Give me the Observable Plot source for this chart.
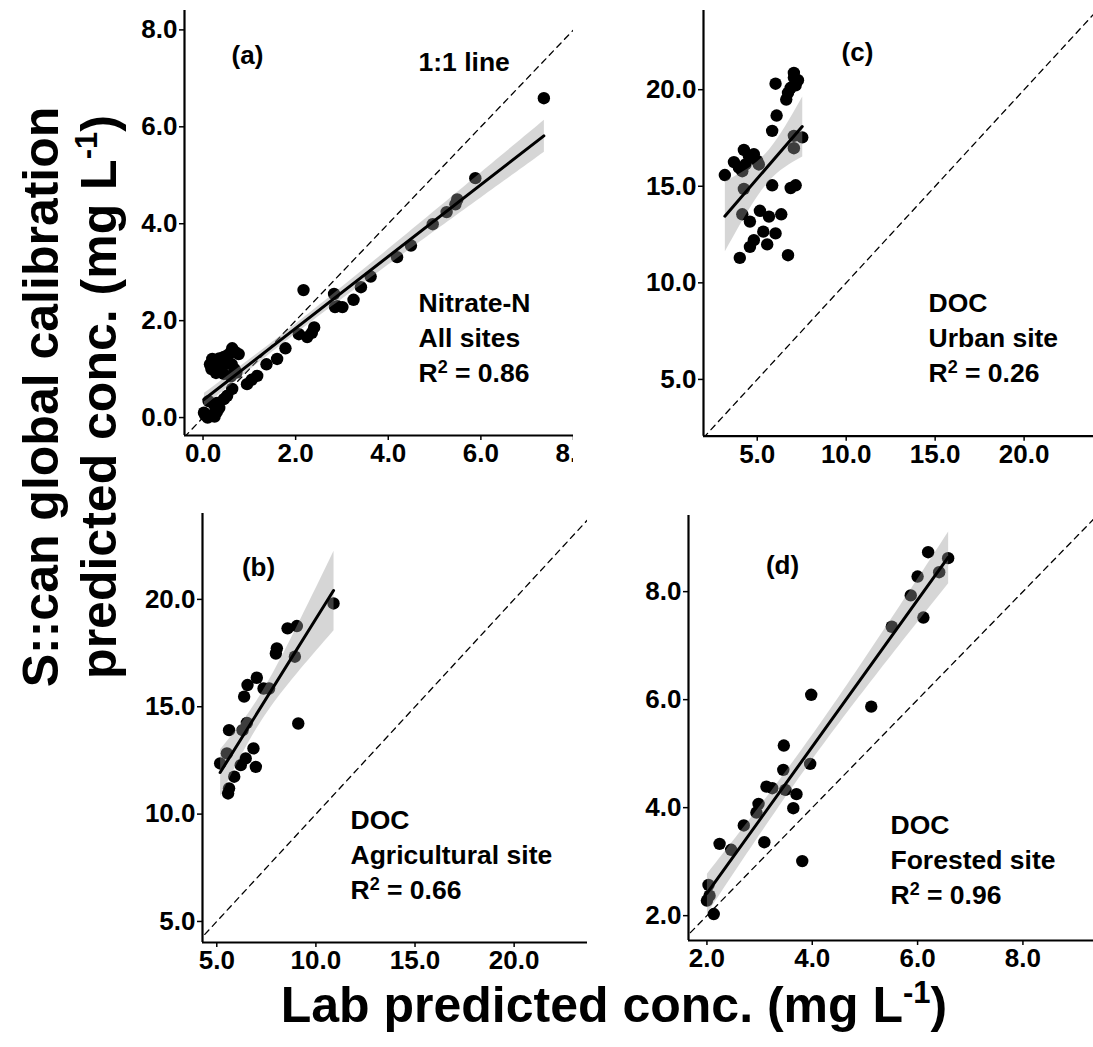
<!DOCTYPE html>
<html><head><meta charset="utf-8">
<script src="https://cdn.jsdelivr.net/npm/d3@7"></script>
<script src="https://cdn.jsdelivr.net/npm/@observablehq/plot@0.6"></script>
<style>
body{margin:0;background:#fff;}
#wrap{position:relative;width:1093px;height:1047px;overflow:hidden;background:#fff;font-family:"Liberation Sans",Arial,sans-serif;}
.panel{position:absolute;}
.title{position:absolute;font-weight:bold;color:#000;white-space:nowrap;font-family:"Liberation Sans",Arial,sans-serif;}
.sup{font-size:0.62em;position:relative;top:-0.62em;}
</style></head>
<body><div id="wrap"></div>
<script>
// ---- Panel (a): Nitrate-N, all sites ----
const aLab  = [7.36,5.88,5.49,5.45,5.26,4.96,4.49,4.19,3.62,3.41,3.25,2.83,3.01,2.85,2.90,2.17,2.40,2.25,2.07,2.35,1.78,1.60,1.37,1.17,0.95,1.05,
               0.63,0.70,0.77,0.55,0.45,0.35,0.20,0.15,0.18,0.30,0.40,0.50,0.62,0.68,0.28,0.45,0.72,0.60,
               0.63,0.52,0.45,0.30,0.23,0.12,0.35,0.30,0.18,0.05,0.02,0.25,0.10];
const aScan = [6.59,4.94,4.50,4.40,4.24,3.99,3.55,3.31,2.91,2.69,2.43,2.55,2.28,2.28,2.30,2.63,1.86,1.66,1.72,1.75,1.43,1.21,1.10,0.86,0.69,0.78,
               1.43,1.35,1.31,1.30,1.25,1.22,1.21,1.10,1.00,1.15,1.05,1.12,1.10,1.00,0.92,0.90,0.93,0.85,
               0.59,0.45,0.38,0.30,0.28,0.34,0.20,0.12,0.05,0.05,0.10,0.02,0.00];
// ---- Panel (c): DOC, urban site ----
const cLab  = [7.06,7.29,7.16,6.88,6.73,6.63,7.06,6.03,6.09,5.84,7.53,7.06,7.06,3.18,3.69,4.25,3.97,4.34,4.72,5.00,4.53,5.09,4.81,4.16,
               4.25,5.84,6.88,7.16,4.16,4.59,5.15,5.66,6.35,5.34,6.03,4.81,4.59,5.56,4.02,6.73];
const cScan = [20.87,20.49,20.23,20.10,19.83,19.49,20.63,20.31,18.66,17.87,17.53,17.61,16.97,15.58,16.25,16.88,15.96,16.13,16.48,16.31,16.57,16.13,16.66,15.78,
               14.86,15.05,14.91,15.05,13.55,13.17,13.73,13.43,13.55,12.65,12.56,12.21,11.86,11.99,11.29,11.43];
// ---- Panel (b): DOC, agricultural site ----
const bLab  = [10.89,9.04,8.57,8.03,7.98,8.94,7.02,6.55,6.38,7.36,7.64,9.11,6.52,6.30,5.62,5.51,6.85,6.46,6.21,6.97,5.17,5.88,5.62,5.57];
const bScan = [19.81,18.76,18.65,17.72,17.48,17.33,16.35,16.01,15.47,15.85,15.85,14.22,14.25,13.91,13.91,12.83,13.06,12.59,12.28,12.20,12.36,11.74,11.20,10.96];
// ---- Panel (d): DOC, forested site ----
const dLab  = [6.20,6.58,6.41,6.00,5.87,6.11,5.51,3.98,5.12,3.46,3.96,3.45,3.13,3.24,3.49,3.70,2.98,2.94,3.64,2.70,2.24,2.46,3.09,3.81,2.03,2.00,2.05,2.13];
const dScan = [8.73,8.62,8.36,8.28,7.93,7.52,7.35,6.09,5.87,5.15,4.81,4.70,4.39,4.36,4.33,4.25,4.07,3.91,3.99,3.67,3.33,3.22,3.36,3.01,2.57,2.28,2.37,2.03];

// tick values
const aTicks = [0, 2, 4, 6, 8];
const docTicks = [5, 10, 15, 20];
const dTicks = [2, 4, 6, 8];

// annotation texts (last line gets a real superscript after rendering)
const aNote = ["Nitrate-N", "All sites", "R2 = 0.86"];
const cNote = ["DOC", "Urban site", "R2 = 0.26"];
const bNote = ["DOC", "Agricultural site", "R2 = 0.66"];
const dNote = ["DOC", "Forested site", "R2 = 0.96"];

const FONT = "'Liberation Sans', Arial, sans-serif";
const wrap = document.getElementById("wrap");
const fmt = d3.format(".1f");

function panel(cfg) {
  const rows = cfg.lab.map((x, i) => ({lab: x, scan: cfg.scan[i]}));
  const lo = Math.min(cfg.xDomain[0], cfg.yDomain[0]);
  const hi = Math.max(cfg.xDomain[1], cfg.yDomain[1]);
  const marks = [
    Plot.line([lo, hi], {x: d => d, y: d => d, stroke: "#000", strokeWidth: 1.3, strokeDasharray: "6,5", clip: true}),
    Plot.dot(rows, {x: "lab", y: "scan", r: 6.2, fill: "#000", stroke: "none"}),
    Plot.linearRegressionY(rows, {x: "lab", y: "scan", stroke: "#000", strokeWidth: 3, fill: "#999", fillOpacity: 0.4, ci: 0.95}),
    Plot.ruleX([cfg.xDomain[0]], {stroke: "#000", strokeWidth: 2.2}),
    Plot.ruleY([cfg.yDomain[0]], {stroke: "#000", strokeWidth: 2.2}),
    Plot.axisX({ticks: cfg.xTicks, tickFormat: fmt, tickSize: 5, tickPadding: 3, label: null, strokeWidth: 1.5}),
    Plot.axisY({ticks: cfg.yTicks, tickFormat: fmt, tickSize: 5, tickPadding: 2, label: null, strokeWidth: 1.5}),
    Plot.text([cfg.tag], {text: d => d, frameAnchor: "top-left", dx: cfg.tagPos[0], dy: cfg.tagPos[1], textAnchor: "middle", lineAnchor: "middle", fontSize: 26, fontWeight: "bold", fontFamily: FONT, fill: "#000"}),
    Plot.text([cfg.note.join("\n")], {text: d => d, frameAnchor: "top-left", dx: cfg.notePos[0], dy: cfg.notePos[1], textAnchor: "start", lineAnchor: "middle", lineHeight: 1.33, fontSize: 26.5, fontWeight: "bold", fontFamily: FONT, fill: "#000", className: "note"})
  ];
  if (cfg.extra) marks.push(Plot.text([cfg.extra], {text: d => d, frameAnchor: "top-left", dx: cfg.extraPos[0], dy: cfg.extraPos[1], textAnchor: "start", lineAnchor: "middle", fontSize: 26.5, fontWeight: "bold", fontFamily: FONT, fill: "#000"}));
  const svg = Plot.plot({
    width: cfg.width, height: cfg.height,
    marginLeft: cfg.marginLeft, marginRight: 0, marginTop: 10, marginBottom: cfg.marginBottom,
    x: {domain: cfg.xDomain}, y: {domain: cfg.yDomain},
    style: {fontFamily: FONT, fontSize: "26px", fontWeight: "bold", color: "#000", background: "transparent", overflow: "hidden"},
    marks
  });
  // turn "R2" into R with a superscript 2
  svg.querySelectorAll("g.note tspan, g.note text").forEach(el => {
    if (el.childElementCount === 0 && /^R2 /.test(el.textContent)) {
      const rest = el.textContent.slice(2);
      el.textContent = "R";
      const sup = document.createElementNS("http://www.w3.org/2000/svg", "tspan");
      sup.setAttribute("font-size", "0.68em");
      sup.setAttribute("baseline-shift", "0.52em");
      sup.textContent = "2";
      const tail = document.createElementNS("http://www.w3.org/2000/svg", "tspan");
      tail.textContent = rest;
      el.appendChild(sup);
      el.appendChild(tail);
    }
  });
  svg.classList.add("panel");
  svg.style.left = cfg.left + "px";
  svg.style.top = cfg.top + "px";
  svg.style.maxWidth = "none";
  wrap.appendChild(svg);
}

panel({lab: aLab, scan: aScan, xDomain: [-0.40, 8.0], yDomain: [-0.37, 8.4], xTicks: aTicks, yTicks: aTicks,
  left: 124, top: 0, width: 449, height: 470, marginLeft: 60, marginBottom: 35,
  tag: "(a)", tagPos: [63, 45], note: aNote, notePos: [234, 325], extra: "1:1 line", extraPos: [234, 52]});
panel({lab: cLab, scan: cScan, xDomain: [1.98, 23.9], yDomain: [2.06, 24.1], xTicks: docTicks, yTicks: docTicks,
  left: 641, top: 0, width: 452, height: 471, marginLeft: 62, marginBottom: 35.3,
  tag: "(c)", tagPos: [154, 42], note: cNote, notePos: [225, 325]});
panel({lab: bLab, scan: bScan, xDomain: [4.28, 23.7], yDomain: [4.02, 24.0], xTicks: docTicks, yTicks: docTicks,
  left: 140, top: 503, width: 447, height: 474, marginLeft: 62, marginBottom: 35,
  tag: "(b)", tagPos: [56, 54], note: bNote, notePos: [148, 339]});
panel({lab: dLab, scan: dScan, xDomain: [1.65, 9.34], yDomain: [1.54, 9.41], xTicks: dTicks, yTicks: dTicks,
  left: 626, top: 505, width: 467, height: 470, marginLeft: 62, marginBottom: 35,
  tag: "(d)", tagPos: [94, 50], note: dNote, notePos: [202, 342]});

// axis titles
const xt = document.createElement("div");
xt.className = "title";
xt.style.cssText += "left:614px;top:980px;transform:translateX(-50%);font-size:50px;line-height:50px;";
xt.innerHTML = 'Lab predicted conc. (mg L<span class="sup">-1</span>)';
wrap.appendChild(xt);

const yt = document.createElement("div");
yt.className = "title";
yt.style.cssText += "left:-330px;top:339px;width:800px;height:116px;text-align:center;font-size:50px;line-height:58px;transform:rotate(-90deg);transform-origin:center;";
yt.innerHTML = 'S::can global calibration<br>predicted conc. (mg L<span class="sup">-1</span>)';
wrap.appendChild(yt);
</script></body></html>
